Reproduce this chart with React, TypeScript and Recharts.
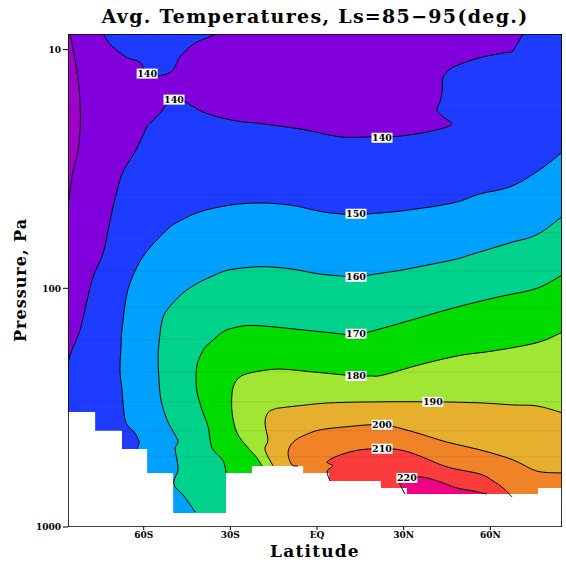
import React from 'react'
import { ComposedChart, Scatter, XAxis, YAxis } from 'recharts'

const LAT_MIN = -86.2
const LAT_MAX = 84.8
const P_TOP = 8.6
const P_BOTTOM = 1000

// contour lines, latitude (deg) / pressure (Pa)
const strip130Lat = [-85.5, -84.1, -82.7, -82.0, -82.0, -83.0, -84.4, -85.5, -86.2]
const strip130P = [8.6, 10.5, 13.4, 17.0, 21.6, 27.5, 31.8, 38.6, 45.5]

const notch140Lat = [-74.0, -71.6, -68.2, -65.7, -61.2, -60.2, -59.2, -56.1, -52.6, -50.2, -49.1, -47.4, -42.9, -38.8, -34.6]
const notch140P = [8.6, 9.5, 10.3, 10.8, 11.3, 11.9, 12.6, 12.9, 12.7, 12.3, 11.8, 10.7, 9.5, 9.0, 8.6]

const c140Lat = [-86.2, -84.8, -82.0, -79.6, -77.5, -74.0, -72.3, -70.6, -68.2, -66.4, -63.0, -58.8, -57.1, -54.3, -52.6, -50.9, -48.8, -45.7, -40.5, -34.6, -26.6, -19.7, -4.8, 8.0, 18.3, 26.0, 36.7, 44.3, 46.7, 43.6, 41.5, 42.6, 43.3, 43.6, 46.0, 48.8, 56.4, 65.1, 67.5, 69.2, 71.3]
const c140P = [203, 181, 149, 112, 89.5, 71.0, 56.9, 45.5, 35.1, 31.2, 26.8, 21.0, 20.0, 18.4, 17.3, 16.4, 15.9, 16.5, 18.0, 19.1, 20.0, 20.4, 21.6, 23.2, 23.2, 23.2, 22.3, 21.2, 20.4, 19.1, 17.9, 16.5, 15.0, 13.1, 12.1, 11.6, 10.8, 10.3, 10.2, 9.5, 8.6]

const c150Lat = [-62.3, -61.6, -63.3, -66.1, -67.1, -67.5, -68.2, -67.8, -67.5, -65.7, -62.3, -58.5, -54.3, -50.9, -47.4, -40.5, -30.1, -19.7, -9.3, -1.4, 4.5, 13.5, 18.3, 29.8, 47.1, 56.4, 66.8, 76.1, 84.8]
const c150P = [470, 439, 400, 367, 308, 266, 220, 172, 149, 104, 81.2, 69.0, 60.8, 55.3, 52.1, 47.8, 44.8, 43.9, 44.8, 46.9, 48.3, 49.2, 48.7, 47.3, 43.9, 40.2, 37.6, 32.5, 27.0]

const c160Lat = [-42.2, -44.3, -46.7, -49.1, -49.5, -48.1, -48.8, -49.1, -48.1, -49.1, -51.9, -54.0, -54.7, -55.0, -54.7, -53.3, -49.8, -45.7, -40.5, -35.3, -30.1, -19.7, -9.3, 1.0, 13.5, 18.3, 25.3, 29.8, 47.1, 52.9, 66.8, 76.1, 84.8]
const c160P = [865, 793, 727, 679, 635, 577, 499, 466, 439, 412, 356, 294, 242, 199, 169, 132, 115, 103, 94.0, 87.9, 83.6, 81.2, 82.8, 87.1, 89.5, 87.9, 85.3, 83.6, 76.0, 72.5, 64.5, 59.6, 50.1]

const c170Lat = [-31.5, -32.5, -36.0, -37.0, -37.7, -39.8, -41.5, -41.9, -41.5, -40.5, -38.8, -37.0, -32.5, -28.4, -23.2, -15.2, -5.9, 3.5, 13.5, 18.3, 29.8, 47.1, 62.3, 76.1, 84.8]
const c170P = [594, 528, 475, 432, 380, 323, 274, 235, 209, 193, 177, 169, 152, 146, 143, 145, 149, 153, 157, 152, 139, 121, 109, 100, 87.9]

const c180Lat = [-19.0, -21.1, -24.2, -27.7, -29.4, -29.4, -28.4, -26.6, -24.2, -19.7, -12.8, -1.4, 13.5, 18.3, 22.8, 35.6, 49.5, 60.9, 76.1, 84.8]
const c180P = [555, 508, 461, 403, 332, 274, 249, 235, 228, 222, 218, 224, 233, 233, 231, 209, 191, 183, 169, 153]

const c190Lat = [-15.2, -18.0, -17.0, -18.0, -17.0, -14.5, -12.8, -6.9, 4.5, 21.8, 40.1, 56.4, 67.8, 76.1, 84.8]
const c190P = [555, 475, 432, 367, 332, 320, 317, 311, 302, 299, 299, 302, 308, 311, 332]

const c200Lat = [-6.6, -8.7, -10.0, -9.3, -6.9, -4.2, 1.0, 10.4, 22.5, 33.2, 45.0, 56.4, 67.8, 76.1, 84.8]
const c200P = [555, 549, 499, 457, 428, 412, 392, 380, 373, 399, 441, 475, 523, 583, 594]

const c210Lat = [4.5, 3.5, 5.5, 3.5, 8.0, 14.9, 22.5, 28.7, 35.6, 45.0, 56.4, 60.9, 64.4, 67.5]
const c210P = [641, 583, 555, 533, 499, 475, 470, 475, 504, 560, 600, 641, 686, 748]

const c220Lat = [30.4, 28.7, 28.0, 34.6, 38.1, 42.6, 48.4, 54.0, 58.8]
const c220P = [727, 661, 629, 617, 623, 647, 686, 706, 727]

// surface (white mask): cell edges and surface pressure per cell
const groundEdges = [-86.2, -76.8, -67.5, -58.8, -49.8, -31.5, -22.5, -4.8, 4.2, 22.1, 31.1, 76.5, 84.8]
const groundP = [330, 395, 471, 594, 873, 594, 555, 594, 641, 686, 727, 686]

// faint model level lines
const levelP = [11.8, 18.0, 27.3, 40.5, 58.5, 84.5, 120, 164, 224, 299, 395, 508]

// contour labels
const labelLat = [-58.8, -49.5, 22.5, 13.5, 13.5, 13.5, 13.5, 40.1, 22.5, 22.5, 31.1]
const labelP = [12.6, 16.2, 23.4, 48.7, 89.5, 155, 233, 299, 373, 470, 623]
const labelText = ['140', '140', '140', '150', '160', '170', '180', '190', '200', '210', '220']

const xTicks = [-60, -30, 0, 30, 60]
const yTicks = [10, 100, 1000]

type Pt = { lat: number; p: number }
type XY = { x: number; y: number }

const toPts = (lats: number[], ps: number[]): Pt[] => lats.map((lat, i) => ({ lat, p: ps[i] }))

// regions drawn bottom-up, each closed along the plot edges
const bands = [
  { key: 'bg', lat: [LAT_MIN, LAT_MAX], p: [P_TOP, P_TOP], fill: '#8200DC', closeLat: [LAT_MAX, LAT_MIN], closeP: [P_BOTTOM, P_BOTTOM], line: false },
  { key: 'c130', lat: strip130Lat, p: strip130P, fill: '#A000C8', closeLat: [LAT_MIN], closeP: [P_TOP], line: true },
  { key: 'n140', lat: notch140Lat, p: notch140P, fill: '#1E3CFF', closeLat: [], closeP: [], line: true },
  { key: 'c140', lat: c140Lat, p: c140P, fill: '#1E3CFF', closeLat: [LAT_MAX, LAT_MAX, LAT_MIN], closeP: [P_TOP, P_BOTTOM, P_BOTTOM], line: true },
  { key: 'c150', lat: c150Lat, p: c150P, fill: '#00A0FF', closeLat: [LAT_MAX, -62.3], closeP: [P_BOTTOM, P_BOTTOM], line: true },
  { key: 'c160', lat: c160Lat, p: c160P, fill: '#00D28C', closeLat: [LAT_MAX, -42.2], closeP: [P_BOTTOM, P_BOTTOM], line: true },
  { key: 'c170', lat: c170Lat, p: c170P, fill: '#00DC00', closeLat: [LAT_MAX, -31.5], closeP: [P_BOTTOM, P_BOTTOM], line: true },
  { key: 'c180', lat: c180Lat, p: c180P, fill: '#A0E632', closeLat: [LAT_MAX, -19.0], closeP: [P_BOTTOM, P_BOTTOM], line: true },
  { key: 'c190', lat: c190Lat, p: c190P, fill: '#E6AF2D', closeLat: [LAT_MAX, -15.2], closeP: [P_BOTTOM, P_BOTTOM], line: true },
  { key: 'c200', lat: c200Lat, p: c200P, fill: '#F08228', closeLat: [LAT_MAX, -6.6], closeP: [P_BOTTOM, P_BOTTOM], line: true },
  { key: 'c210', lat: c210Lat, p: c210P, fill: '#FA3C3C', closeLat: [67.5, 4.5], closeP: [P_BOTTOM, P_BOTTOM], line: true },
  { key: 'c220', lat: c220Lat, p: c220P, fill: '#F00082', closeLat: [58.8, 30.4], closeP: [P_BOTTOM, P_BOTTOM], line: true }
]

const groundPts: Pt[] = groundP
  .flatMap((p, i) => [
    { lat: groundEdges[i], p },
    { lat: groundEdges[i + 1], p }
  ])
  .concat([
    { lat: LAT_MAX, p: P_BOTTOM },
    { lat: LAT_MIN, p: P_BOTTOM }
  ])

const framePts: Pt[] = [
  { lat: LAT_MIN, p: P_TOP },
  { lat: LAT_MAX, p: P_TOP },
  { lat: LAT_MAX, p: P_BOTTOM },
  { lat: LAT_MIN, p: P_BOTTOM }
]

const labelPts = labelLat.map((lat, i) => ({ lat, p: labelP[i], text: labelText[i] }))

// Catmull-Rom through the contour points
function smooth(q: XY[]): string {
  if (!q.length) return ''
  let d = `M${q[0].x},${q[0].y}`
  for (let i = 0; i < q.length - 1; i++) {
    const p0 = q[i - 1] || q[i]
    const p1 = q[i]
    const p2 = q[i + 1]
    const p3 = q[i + 2] || p2
    d += `C${p1.x + (p2.x - p0.x) / 6},${p1.y + (p2.y - p0.y) / 6} ${p2.x - (p3.x - p1.x) / 6},${p2.y - (p3.y - p1.y) / 6} ${p2.x},${p2.y}`
  }
  return d
}

const straight = (q: XY[]) => q.map((pt, i) => `${i ? 'L' : 'M'}${pt.x},${pt.y}`).join('')

const fillRenderer = (n: number, color: string, curved: boolean) => (props: any) => {
  const q = props.points as XY[]
  const head = curved ? smooth(q.slice(0, n)) : straight(q.slice(0, n))
  const tail = q.slice(n).map((pt) => `L${pt.x},${pt.y}`).join('')
  return <path d={head + tail + 'Z'} fill={color} stroke="none" />
}

const contourRenderer = (props: any) => (
  <path d={smooth(props.points as XY[])} fill="none" stroke="#000" strokeWidth={1} />
)

const noDot = () => <g />

const LabelShape = (props: any) => {
  const { cx, cy, payload } = props
  return (
    <g>
      <rect x={cx - 10.5} y={cy - 5} width={21} height={10} fill="#fff" />
      <text
        x={cx}
        y={cy}
        dy="0.36em"
        textAnchor="middle"
        fontSize={9.5}
        fontWeight="bold"
        fontFamily="DejaVu Serif"
        fill="#000"
      >
        {payload.text}
      </text>
    </g>
  )
}

const latLabel = (v: number) => (v === 0 ? 'EQ' : v < 0 ? `${-v}S` : `${v}N`)

const tickStyle = { fontSize: 9, fontWeight: 'bold', fill: '#000', fontFamily: 'DejaVu Serif' }
const heading = { position: 'absolute' as const, fontFamily: 'DejaVu Serif', fontWeight: 'bold' as const, color: '#000', whiteSpace: 'nowrap' as const }

export default function App() {
  return (
    <div style={{ position: 'absolute', left: 0, top: 0, width: 566, height: 564, background: '#fff' }}>
      <ComposedChart width={566} height={564} margin={{ top: 34, right: 4, bottom: 0, left: 0 }}>
        <XAxis
          dataKey="lat"
          type="number"
          domain={[LAT_MIN, LAT_MAX]}
          allowDataOverflow
          ticks={xTicks}
          tickFormatter={latLabel}
          height={37}
          axisLine={false}
          tickSize={3}
          tickLine={{ stroke: '#000' }}
          tick={tickStyle}
          interval={0}
        />
        <YAxis
          dataKey="p"
          type="number"
          scale="log"
          domain={[P_TOP, P_BOTTOM]}
          allowDataOverflow
          reversed
          ticks={yTicks}
          width={68}
          axisLine={false}
          tickSize={5}
          tickLine={{ stroke: '#000' }}
          tick={tickStyle}
          interval={0}
        />
        {bands.map((b) => {
          const data = toPts(b.lat, b.p).concat(toPts(b.closeLat, b.closeP))
          return (
            <Scatter
              key={`fill-${b.key}`}
              data={data}
              shape={noDot}
              line={fillRenderer(b.lat.length, b.fill, b.line)}
              isAnimationActive={false}
            />
          )
        })}
        {levelP.map((p) => (
          <Scatter
            key={`lev-${p}`}
            data={[
              { lat: LAT_MIN, p },
              { lat: LAT_MAX, p }
            ]}
            shape={noDot}
            line={(props: any) => (
              <path d={straight(props.points)} fill="none" stroke="#000" strokeOpacity={0.08} strokeWidth={1} />
            )}
            isAnimationActive={false}
          />
        ))}
        <Scatter data={groundPts} shape={noDot} line={fillRenderer(groundPts.length, '#fff', false)} isAnimationActive={false} />
        {bands
          .filter((b) => b.line)
          .map((b) => (
            <Scatter
              key={`line-${b.key}`}
              data={toPts(b.lat, b.p)}
              shape={noDot}
              line={contourRenderer}
              isAnimationActive={false}
            />
          ))}
        <Scatter data={labelPts} shape={LabelShape} isAnimationActive={false} />
        <Scatter
          data={framePts}
          shape={noDot}
          line={(props: any) => (
            <path d={straight(props.points) + 'Z'} fill="none" stroke="#000" strokeWidth={1.6} />
          )}
          isAnimationActive={false}
        />
      </ComposedChart>
      <div style={{ ...heading, left: 0, width: 630, top: 5, textAlign: 'center', fontSize: 19, letterSpacing: 1.3 }}>
        Avg. Temperatures, Ls=85−95(deg.)
      </div>
      <div style={{ ...heading, left: 0, width: 630, top: 541, textAlign: 'center', fontSize: 17, letterSpacing: 1.2 }}>
        Latitude
      </div>
      <div
        style={{
          ...heading,
          left: 20,
          top: 280,
          fontSize: 16,
          letterSpacing: 1,
          transform: 'translate(-50%, -50%) rotate(-90deg)'
        }}
      >
        Pressure, Pa
      </div>
    </div>
  )
}
